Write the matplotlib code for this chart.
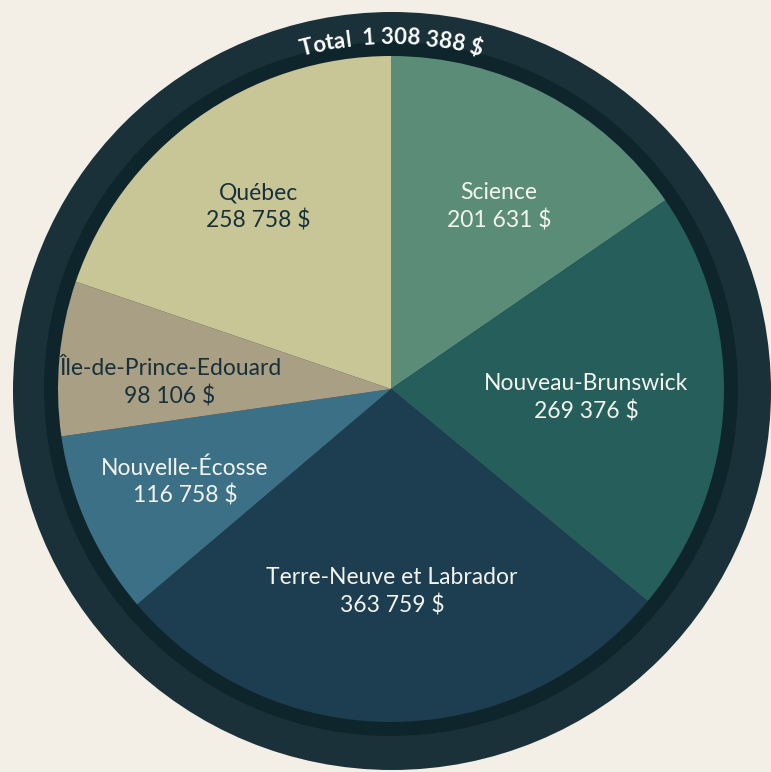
import numpy as np
import matplotlib
matplotlib.use('Agg')
import matplotlib.pyplot as plt
from matplotlib.patches import Circle
from matplotlib.textpath import TextToPath
from matplotlib.font_manager import FontProperties

# données du graphique (sens horaire depuis le haut)
categories = ['Science', 'Nouveau-Brunswick', 'Terre-Neuve et Labrador',
              'Nouvelle-Écosse', 'Île-de-Prince-Edouard', 'Québec']
montants = [201631, 269376, 363759, 116758, 98106, 258758]
couleurs = ['#5b8c77', '#255e5a', '#1c3e50', '#3b7086', '#a99f84', '#c8c596']
couleurs_txt = ['#f4f4ee', '#f4f4ee', '#f4f4ee', '#f4f4ee', '#17303a', '#17303a']
titre_total = 'Total  1 308 388 $'

def fmt(v):
    return '{:,}'.format(v).replace(',', ' ') + ' $'

W, H = 771, 772
fig = plt.figure(figsize=(W/100, H/100), dpi=100)
fig.patch.set_facecolor('#f3efe6')
ax = fig.add_axes([0, 0, 1, 1])

cx, cy = 391, H-389     # centre du camembert
R = 333

# anneau extérieur
ax.add_patch(Circle((392, H-391), 379, fc='#1a3139', ec='none', zorder=1))
ax.add_patch(Circle((cx, cy), 347, fc='#0f252c', ec='none', zorder=2))

labels = [c+'\n'+fmt(v) for c, v in zip(categories, montants)]
wedges, texts = ax.pie(montants, colors=couleurs, startangle=90, counterclock=False,
                       radius=R, center=(cx, cy), labels=labels, labeldistance=0.65,
                       frame=True, wedgeprops=dict(linewidth=0, zorder=3),
                       textprops=dict(fontsize=16.5, family='Lato', linespacing=1.35))
# centres des étiquettes (pixels, depuis le haut)
pos_etiquettes = [(499, 207), (586, 398), (392, 592), (185, 482), (170, 383), (258, 207)]
for t, c, (px, py) in zip(texts, couleurs_txt, pos_etiquettes):
    t.set_position((px, H-py))
    t.set_ha('center')
    t.set_va('center')
    t.set_color(c)
    t.set_zorder(5)
ax.set_xlim(0, W)
ax.set_ylim(0, H)
ax.axis('off')

# texte courbé "Total"
fs = 16
prop = FontProperties(family='Lato', weight='bold', size=fs)
t2p = TextToPath()
def largeur(s):
    if not s:
        return 0.0
    w, h, d = t2p.get_text_width_height_descent(s.replace(' ', '\u00a0'), prop, ismath=False)
    return w*100/72
Rt = 345
total_w = largeur(titre_total)
for i, ch in enumerate(titre_total):
    if ch == ' ':
        continue
    pos = (largeur(titre_total[:i]) + largeur(titre_total[:i+1]))/2 - total_w/2
    a = np.pi/2 - pos/Rt
    ax.text(cx + Rt*np.cos(a), cy + Rt*np.sin(a), ch, fontproperties=prop,
            color='white', rotation=np.degrees(a)-90, rotation_mode='anchor',
            ha='center', va='baseline', zorder=6)

fig.savefig('out.png', dpi=100, facecolor=fig.get_facecolor())
